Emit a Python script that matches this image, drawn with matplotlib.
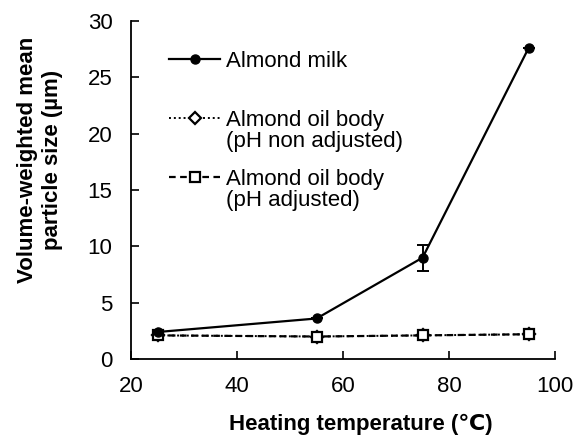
import matplotlib

matplotlib.use("Agg")
import matplotlib.pyplot as plt

plt.rcParams["font.family"] = ["Liberation Sans", "DejaVu Sans"]

temperature = [25, 55, 75, 95]
milk_size = [2.4, 3.6, 9.0, 27.6]
milk_err = [0.0, 0.0, 1.15, 0.0]
oil_non_adj = [2.1, 2.0, 2.1, 2.2]
oil_adj = [2.1, 2.0, 2.1, 2.2]

fig = plt.figure(figsize=(5.83, 4.4), dpi=100)
ax = fig.add_axes([0.225, 0.184, 0.727, 0.768])

eb = ax.errorbar(temperature, milk_size, yerr=milk_err, fmt="-o", color="black",
                 lw=1.6, ms=6.5, capsize=4, elinewidth=1.4, capthick=1.4, zorder=3)
l1, = ax.plot(temperature, oil_non_adj, linestyle=(0, (1, 1.5)), marker="D",
              color="black", lw=1.4, ms=6, mfc="white", mew=1.6)
l2, = ax.plot(temperature, oil_adj, linestyle=(0, (3, 2)), marker="s", color="black",
              lw=1.6, ms=6.5, mfc="white", mew=1.6)

ax.set_xlim(20, 100)
ax.set_ylim(0, 30)
ax.set_xticks([20, 40, 60, 80, 100])
ax.set_yticks([0, 5, 10, 15, 20, 25, 30])
ax.tick_params(direction="in", length=6, width=1.2, labelsize=16)
ax.tick_params(axis="y", pad=13.5)
ax.tick_params(axis="x", pad=12)
for s in ["top", "right"]:
    ax.spines[s].set_visible(False)
for s in ["left", "bottom"]:
    ax.spines[s].set_linewidth(1.3)

ax.set_xlabel("Heating temperature (℃)", fontsize=16, fontweight="bold")
ax.set_ylabel("Volume-weighted mean\nparticle size (µm)", fontsize=16,
              fontweight="bold", linespacing=1.3)
ax.xaxis.set_label_coords(0.5425, -0.163)
ax.yaxis.set_label_coords(-0.16, 0.59)

leg = ax.legend(handles=[eb.lines[0], l1, l2],
                labels=["Almond milk", "Almond oil body", "Almond oil body"],
                loc="upper left", bbox_to_anchor=(0.09, 0.913), frameon=False,
                borderpad=0, borderaxespad=0, handlelength=2.3, handletextpad=0.25,
                labelspacing=1.72, fontsize=16)
for txt, extra in zip(leg.texts[1:], ["(pH non adjusted)", "(pH adjusted)"]):
    ax.annotate(extra, xy=(0, 0), xycoords=txt, xytext=(0, 0),
                textcoords="offset points", va="top", ha="left", fontsize=16,
                zorder=6)

fig.savefig("out.png", dpi=100)
